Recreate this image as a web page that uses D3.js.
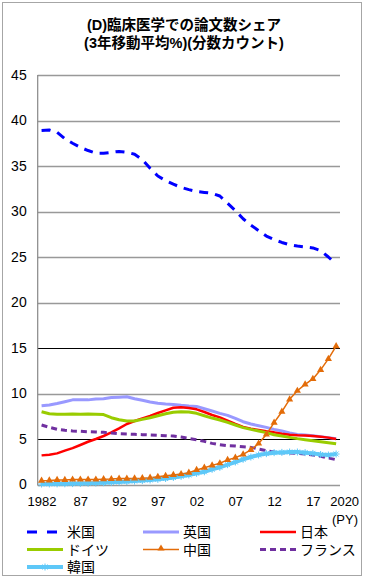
<!DOCTYPE html>
<html><head><meta charset="utf-8">
<script src="https://cdn.jsdelivr.net/npm/d3@7"></script>
<style>
body{margin:0;background:#fff;}
svg{display:block;}
text{font-family:"Liberation Sans",Arial,"Noto Sans CJK JP",sans-serif;}
.jp{font-family:"Liberation Sans","Noto Sans CJK JP",sans-serif;}
</style></head>
<body>
<svg id="c" width="365" height="579"></svg>
<script>
const years = d3.range(1982, 2021);
const usa = [38.9,38.95,38.7,38.0,37.5,37.05,36.7,36.4,36.4,36.5,36.6,36.5,36.3,35.7,34.75,33.9,33.4,33.0,32.65,32.4,32.2,32.1,32.0,31.7,30.9,30.1,29.2,28.5,27.9,27.3,26.9,26.6,26.35,26.2,26.1,26.0,25.7,25.0,24.2];
const uk = [8.66,8.74,8.9,9.1,9.3,9.3,9.3,9.4,9.42,9.55,9.6,9.65,9.43,9.25,9.07,8.92,8.85,8.8,8.7,8.62,8.58,8.33,8.08,7.82,7.6,7.27,6.9,6.65,6.46,6.28,6.06,5.88,5.66,5.5,5.44,5.37,5.26,5.15,5.04];
const japan = [3.2,3.28,3.42,3.72,4.0,4.34,4.7,5.0,5.33,5.73,6.17,6.65,6.98,7.27,7.53,7.86,8.15,8.44,8.48,8.4,8.26,7.97,7.64,7.38,7.01,6.65,6.32,6.13,5.99,5.84,5.73,5.58,5.47,5.4,5.38,5.33,5.26,5.15,5.0];
const germany = [8.0,7.78,7.71,7.71,7.75,7.71,7.75,7.71,7.68,7.34,7.12,6.98,6.98,7.16,7.34,7.56,7.78,7.93,8.0,7.97,7.82,7.56,7.3,7.09,6.83,6.54,6.25,6.06,5.88,5.7,5.47,5.33,5.18,5.04,4.92,4.81,4.7,4.6,4.48];
const china = [0.42,0.45,0.5,0.5,0.55,0.55,0.55,0.55,0.58,0.6,0.65,0.65,0.67,0.7,0.75,0.85,0.95,1.05,1.15,1.3,1.6,1.85,2.1,2.33,2.7,2.95,3.3,3.8,4.5,5.5,6.8,8.0,9.36,10.3,11.0,11.6,12.6,13.8,15.2];
const france = [6.54,6.28,6.06,5.95,5.88,5.85,5.8,5.77,5.73,5.66,5.58,5.55,5.51,5.48,5.44,5.4,5.37,5.33,5.22,5.07,4.92,4.74,4.52,4.37,4.26,4.23,4.15,4.08,3.9,3.72,3.57,3.5,3.46,3.42,3.35,3.24,3.1,2.91,2.73];
const korea = [0.05,0.06,0.07,0.08,0.1,0.12,0.14,0.16,0.2,0.24,0.28,0.33,0.38,0.43,0.5,0.57,0.66,0.78,0.9,1.05,1.23,1.4,1.67,1.89,2.18,2.47,2.77,3.02,3.24,3.39,3.5,3.53,3.57,3.57,3.5,3.42,3.3,3.24,3.35];
const yTicks = [0,5,10,15,20,25,30,35,40,45];
const xTickYears = [1982,1987,1992,1997,2002,2007,2012,2017,2020];
const xTickLabels = ["1982","87","92","97","02","07","12","17","2020"];
const titleLines = ["(D)臨床医学での論文数シェア","(3年移動平均%)(分数カウント)"];
const seriesNames = ["米国","英国","日本","ドイツ","中国","フランス","韓国"];

const svg = d3.select("#c");
// outer frame
svg.append("rect").attr("x",2.5).attr("y",2.5).attr("width",359).attr("height",573)
  .attr("fill","none").attr("stroke","#a6a6a6").attr("stroke-width",1);

const L = 37.7, R = 340, T = 75, B = 484.5;
const x = d3.scalePoint().domain(years).range([L,R]).padding(0.5);
const y = d3.scaleLinear().domain([0,45]).range([B,T]);

// title
svg.selectAll("text.title").data(titleLines).enter().append("text")
  .attr("class","jp").attr("x",184).attr("y",(d,i)=>30+i*18)
  .attr("text-anchor","middle").attr("font-size",14.5).attr("font-weight","bold")
  .attr("fill","#000").text(d=>d);

// gridlines
const darkGrid = new Set([5,15]);
svg.append("g").selectAll("line").data(yTicks).enter().append("line")
  .attr("x1",L).attr("x2",R).attr("y1",d=>Math.round(y(d))+0.5).attr("y2",d=>Math.round(y(d))+0.5)
  .attr("stroke",d=>darkGrid.has(d)?"#000":"#999").attr("stroke-width",d=>darkGrid.has(d)?1:1.5);
// left axis line
svg.append("line").attr("x1",L).attr("x2",L).attr("y1",T).attr("y2",B+1)
  .attr("stroke","#888").attr("stroke-width",1.2);

// y labels
const yAxis = d3.axisLeft(y).tickValues(yTicks).tickSize(0).tickPadding(11);
const gy = svg.append("g").attr("transform",`translate(${L},0)`).call(yAxis);
gy.select(".domain").remove();
gy.selectAll("text").attr("font-size",14).attr("fill","#000")
  .style("font-family",'"Liberation Sans",Arial,sans-serif');

// x labels
const xAxis = d3.axisBottom(x).tickValues(xTickYears).tickSize(0).tickPadding(12)
  .tickFormat((d)=>xTickLabels[xTickYears.indexOf(d)]);
const gx = svg.append("g").attr("transform",`translate(0,${B})`).call(xAxis);
gx.select(".domain").remove();
gx.selectAll("text").attr("font-size",13).attr("fill","#000")
  .style("font-family",'"Liberation Sans",Arial,sans-serif')
  .attr("dx",d=>d===2020?8:0);
svg.append("text").attr("x",358).attr("y",524).attr("text-anchor","end")
  .attr("font-size",13).attr("fill","#000").text("(PY)");

const line = d3.line().x((d,i)=>x(years[i])).y(d=>y(d));
const series = [
  {name:"米国", data:usa, color:"#0000FF", w:3, dash:"9,7"},
  {name:"英国", data:uk, color:"#9999FF", w:3, dash:null},
  {name:"日本", data:japan, color:"#FF0000", w:2.5, dash:null},
  {name:"ドイツ", data:germany, color:"#99CC00", w:3, dash:null},
  {name:"フランス", data:france, color:"#7030A0", w:3, dash:"6,4"},
  {name:"韓国", data:korea, color:"#5EC8F8", w:4, dash:null, star:true},
  {name:"中国", data:china, color:"#E36C09", w:1.5, dash:null, tri:true}
];
const plot = svg.append("g");
series.forEach(s=>{
  plot.append("path").datum(s.data).attr("d",line).attr("fill","none")
    .attr("stroke",s.color).attr("stroke-width",s.w)
    .attr("stroke-dasharray",s.dash).attr("stroke-linejoin","round");
});
const starPath = "M-3.5,0L3.5,0M0,-3.5L0,3.5M-2.5,-2.5L2.5,2.5M-2.5,2.5L2.5,-2.5";
function drawStar(g, cx, cy){
  g.append("path").attr("d",starPath).attr("transform",`translate(${cx},${cy})`)
    .attr("stroke","#5EC8F8").attr("stroke-width",1).attr("fill","none");
}
function drawTri(g, cx, cy){
  g.append("path").attr("d",d3.symbol().type(d3.symbolTriangle).size(22)())
    .attr("transform",`translate(${cx},${cy})`).attr("fill","#E36C09");
}
const kg = plot.append("g");
korea.forEach((v,i)=>drawStar(kg, x(years[i]), y(v)));
const cg = plot.append("g");
china.forEach((v,i)=>drawTri(cg, x(years[i]), y(v)));

// legend
const legendCols = [27,143,260];
const legendRows = [532,549.5,567];
const legOrder = ["米国","英国","日本","ドイツ","中国","フランス","韓国"];
const lg = svg.append("g");
legOrder.forEach((nm,i)=>{
  const s = series.find(d=>d.name===nm);
  const lx = legendCols[i%3], ly = legendRows[Math.floor(i/3)];
  const sw = 36;
  const ln = lg.append("line").attr("x1",lx).attr("x2",lx+sw).attr("y1",ly).attr("y2",ly)
    .attr("stroke",s.color).attr("stroke-width",s.w);
  if(nm==="米国") ln.attr("stroke-dasharray","10,10");
  if(nm==="フランス") ln.attr("stroke-dasharray","6,4");
  if(s.tri) drawTri(lg, lx+sw/2, ly-1);
  if(s.star) drawStar(lg, lx+sw/2, ly);
  lg.append("text").attr("class","jp").attr("x",lx+sw+4).attr("y",ly+5)
    .attr("font-size",14).attr("fill","#000").text(nm);
});
</script>
</body></html>
